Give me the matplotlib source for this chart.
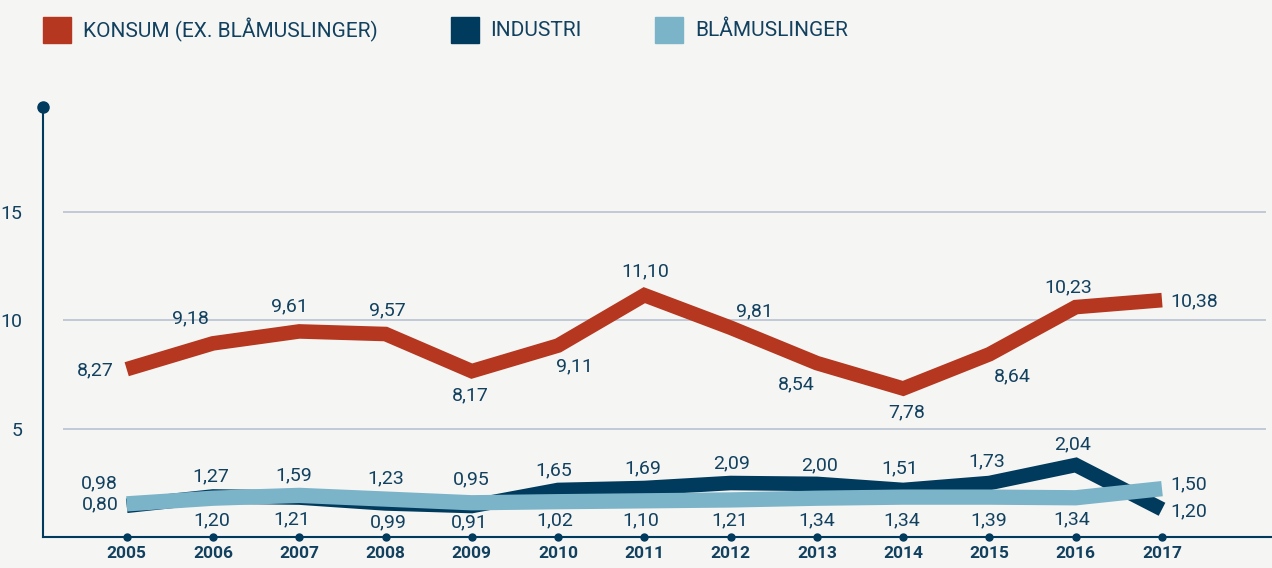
import matplotlib.pyplot as plt
import matplotlib.font_manager as fm
from matplotlib.patches import Rectangle

# font: narrow sans if there is one
names = set(f.name for f in fm.fontManager.ttflist)
font = 'Liberation Sans Narrow' if 'Liberation Sans Narrow' in names else 'Roboto'
plt.rcParams['font.family'] = [font, 'DejaVu Sans']

years = list(range(2005, 2018))

# lines as drawn in the picture
konsum_line = [7.74, 8.93, 9.48, 9.36, 7.65, 8.83, 11.15, 9.65, 8.02, 6.85, 8.43, 10.60, 10.92]
industri_line = [1.45, 1.88, 1.83, 1.56, 1.44, 2.18, 2.27, 2.50, 2.46, 2.18, 2.50, 3.33, 1.29]
blaa_line = [1.54, 1.80, 1.93, 1.76, 1.59, 1.64, 1.68, 1.72, 1.80, 1.85, 1.85, 1.82, 2.24]

# printed values
konsum_lbl = ['8,27', '9,18', '9,61', '9,57', '8,17', '9,11', '11,10', '9,81', '8,54', '7,78', '8,64', '10,23', '10,38']
industri_lbl = ['0,80', '1,27', '1,21', '0,99', '0,91', '1,65', '1,69', '2,09', '2,00', '1,51', '1,73', '2,04', '1,20']
blaa_lbl = ['0,98', '1,20', '1,59', '1,23', '0,95', '1,02', '1,10', '1,21', '1,34', '1,34', '1,39', '1,34', '1,50']

series_names = ['KONSUM (EX. BLÅMUSLINGER)', 'INDUSTRI', 'BLÅMUSLINGER']

RED = '#b5371f'
NAVY = '#003a5c'
LIGHT = '#7bb3c8'
TXT = '#12415f'
BG = '#f5f5f3'
GRID = '#bcc6d3'

# label offsets in pixels (dx, dy; dy down positive) and alignment
konsum_off = [(-13, 1, 'right'), (-23, -25, 'center'), (-10, -25, 'center'), (2, -24, 'center'),
              (-1, 24, 'center'), (16, 21, 'center'), (1, -24, 'center'), (24, -16, 'center'),
              (-21, 21, 'center'), (4, 24, 'center'), (23, 22, 'center'), (-8, -20, 'center'),
              (8, 1, 'left')]
industri_off = [(-8, -1, 'right'), (-2, -20, 'center'), (-7, 22, 'center'), (3, 19, 'center'),
                (-2, 16, 'center'), (-4, -20, 'center'), (-2, -20, 'center'), (1, -20, 'center'),
                (3, -19, 'center'), (-3, -22, 'center'), (-3, -22, 'center'), (-3, -21, 'center'),
                (8, 2, 'left')]
blaa_off = [(-9, -20, 'right'), (-1, 22, 'center'), (-6, -20, 'center'), (0, -21, 'center'),
            (-1, -23, 'center'), (-3, 19, 'center'), (-4, 20, 'center'), (-1, 20, 'center'),
            (0, 22, 'center'), (-1, 23, 'center'), (-1, 23, 'center'), (-4, 22, 'center'),
            (8, -4, 'left')]

fig = plt.figure(figsize=(12.72, 5.68), dpi=100, facecolor=BG)
ax = fig.add_axes([43 / 1272, (568 - 537.3) / 568, 1 - 43 / 1272, (537.3 - 107.3) / 568])
ax.set_facecolor(BG)
ax.set_xlim(2004.03, 2018.275)
ax.set_ylim(0, 19.8)

ax.hlines([5, 10, 15], 2004.26, 2018.2, color=GRID, lw=1.3, zorder=1)

ax.plot(years, konsum_line, color=RED, lw=10.5, solid_capstyle='butt', solid_joinstyle='miter', zorder=3)
ax.plot(years, industri_line, color=NAVY, lw=10.5, solid_capstyle='butt', solid_joinstyle='miter', zorder=4)
ax.plot(years, blaa_line, color=LIGHT, lw=11, solid_capstyle='butt', solid_joinstyle='miter', zorder=5)

for line, lbls, offs in [(konsum_line, konsum_lbl, konsum_off),
                         (industri_line, industri_lbl, industri_off),
                         (blaa_line, blaa_lbl, blaa_off)]:
    for x, y, s, (dx, dy, ha) in zip(years, line, lbls, offs):
        ax.annotate(s, (x, y), xytext=(dx, -dy), textcoords='offset pixels',
                    ha=ha, va='center', fontsize=14, color=TXT, zorder=6)

# axes
for side in ['top', 'right']:
    ax.spines[side].set_visible(False)
for side in ['left', 'bottom']:
    ax.spines[side].set_color(NAVY)
    ax.spines[side].set_linewidth(1.5)
ax.plot([2004.03], [19.8], 'o', color=NAVY, ms=8, clip_on=False, zorder=7)
ax.plot(years, [0] * len(years), 'o', color=NAVY, ms=5, clip_on=False, zorder=7)

ax.set_xticks(years)
ax.set_xticklabels([str(y) for y in years], fontsize=12.5, fontweight='bold', color=TXT)
ax.set_yticks([5, 10, 15])
ax.set_yticklabels(['5', '10', '15'], fontsize=14, color=TXT)
ax.tick_params(axis='x', length=0, pad=6)
ax.tick_params(axis='y', length=0, pad=15)

# legend
legend_pos = [(43, 83), (451, 490), (655, 695)]
for (sx, tx), name, c in zip(legend_pos, series_names, [RED, NAVY, LIGHT]):
    fig.patches.append(Rectangle((sx / 1272, 1 - 43 / 568), 28 / 1272, 26 / 568,
                                 transform=fig.transFigure, color=c, figure=fig))
    fig.text(tx / 1272, 1 - 30 / 568, name, fontsize=15, color=TXT, va='center', ha='left')

plt.savefig('out.png', dpi=100, facecolor=BG)
